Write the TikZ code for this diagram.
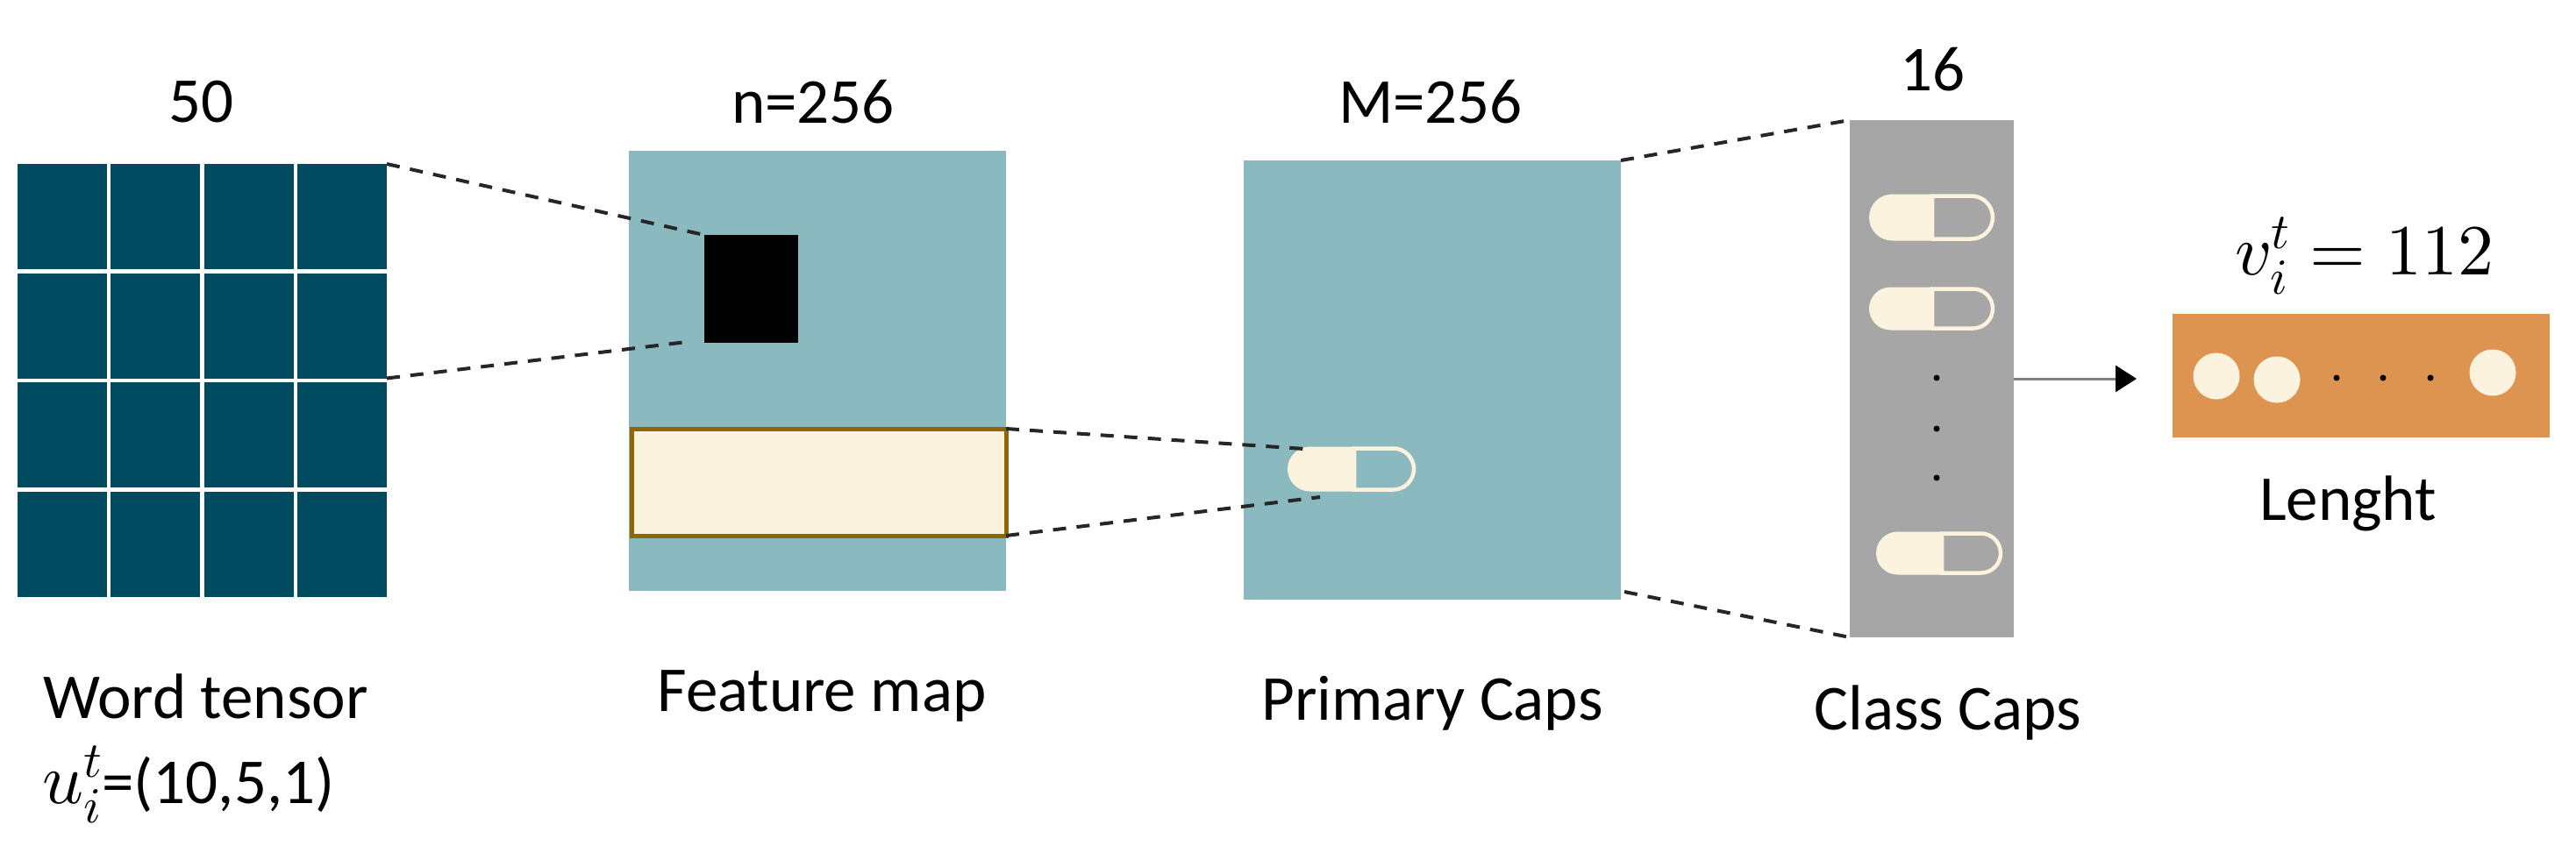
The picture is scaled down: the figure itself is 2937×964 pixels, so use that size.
\documentclass[tikz,border=0pt]{standalone}
\usepackage{fontspec}
\usepackage{unicode-math}
\setmainfont{Carlito}
\setmathfont{Latin Modern Math}
\usetikzlibrary{arrows.meta,shapes.misc}

\definecolor{wordteal}{HTML}{004B60}
\definecolor{mapteal}{HTML}{8AB9BF}
\definecolor{capscream}{HTML}{FCF3DE}
\definecolor{capsbrown}{HTML}{8F6600}
\definecolor{classgray}{HTML}{A6A6A6}
\definecolor{lengthorange}{HTML}{DD9450}

\tikzset{
	panel/.style={draw=none, inner sep=0pt, outer sep=0pt, anchor=north west},
	title/.style={inner sep=0pt, font=\fontsize{73}{90}\selectfont},
	bigtitle/.style={inner sep=0pt, font=\fontsize{82}{90}\selectfont},
	zoomline/.style={dashed, dash pattern=on 15pt off 12pt, line width=4pt, black!85},
	capsleft/.style={rounded rectangle, rounded rectangle right arc=none, fill=capscream, inner sep=0pt, outer sep=0pt, anchor=west},
	capsright/.style={rounded rectangle, rounded rectangle left arc=none, draw=capscream, line width=4.5pt, inner sep=0pt, outer sep=0pt, anchor=west},
	blob/.style={circle, fill=capscream, inner sep=0pt, minimum size=53pt},
	spot/.style={circle, fill=black, inner sep=0pt, minimum size=7pt},
}

\begin{document}
\begin{tikzpicture}[x=1pt,y=-1pt]
	\useasboundingbox (0,0) rectangle (2937,964);

	% word tensor
	\foreach \c in {0,...,3}{
		\foreach \r in {0,...,3}{
			\node[panel, fill=wordteal, minimum width=102pt, minimum height=120pt] (cell\c\r) at ({19.5+\c*106.5},{187+\r*124.5}) {};
		}
	}

	% panels
	\node[panel, fill=mapteal, minimum width=430pt, minimum height=502pt] (featuremap) at (717,172) {};
	\node[panel, fill=black, minimum width=107pt, minimum height=123pt] (kernel) at (803,268) {};
	\node[panel, fill=capscream, draw=capsbrown, line width=5pt, minimum width=427pt, minimum height=122pt] (slice) at (720,489) {};
	\node[panel, fill=mapteal, minimum width=430pt, minimum height=501pt] (primary) at (1418,183) {};
	\node[panel, fill=classgray, minimum width=187pt, minimum height=590pt] (classcaps) at (2109,137) {};
	\node[panel, fill=lengthorange, minimum width=430pt, minimum height=141pt] (lengthbox) at (2477,358) {};

	% capsules
	\foreach \n/\x/\y/\s/\e/\h in {capa/1468/535/1544/1616/51, capb/2131/248/2203/2276/53, capc/2131/352/2203/2276/49, capd/2139/631/2214/2285/49}{
		\node[capsright, minimum width={\e-\s-4}, minimum height={\h-4}] (\n r) at (\s,\y) {};
		\node[capsleft, minimum width={\s-\x}, minimum height=\h] (\n l) at (\x,\y) {};
	}

	% dots
	\foreach \n/\x/\y in {a/2208/431, b/2208/489, c/2208/545, d/2664/431, e/2717/431, f/2771/431}{
		\node[spot] (spot\n) at (\x,\y) {};
	}
	\foreach \n/\x/\y in {a/2527/429, b/2596/433, c/2842/425}{
		\node[blob] (blob\n) at (\x,\y) {};
	}

	% dashed lines
	\coordinate (kernelend) at (783,390);
	\coordinate (capatop) at (1487,512);
	\coordinate (capabottom) at (1505,567);
	\coordinate (primaryend) at (1852,675);
	\draw[zoomline] (cell30.north east) -- (kernel.north west);
	\draw[zoomline] (cell31.south east) -- (kernelend);
	\draw[zoomline] (slice.north east) -- (capatop);
	\draw[zoomline] (slice.south east) -- (capabottom);
	\draw[zoomline] (primary.north east) -- (classcaps.north west);
	\draw[zoomline] (primaryend) -- (classcaps.south west);

	% arrow
	\coordinate (arrowend) at (2436,432);
	\draw[-{Triangle[black, length=24pt, width=30pt]}, line width=3pt, gray] (classcaps.east) -- (arrowend);

	% labels
	\node[title] (wordtop) at (229,116) {50};
	\node[title] (maptop) at (927,116) {n=256};
	\node[title] (primarytop) at (1631,116) {M=256};
	\node[title] (classtop) at (2203,79) {16};
	\node[bigtitle] (vlabel) at (2696,292) {$v_i^t = 112$};
	\node[title] (lengthlabel) at (2677,574) {Lenght};
	\node[title, anchor=west] (wordlabel) at (49,794) {Word tensor};
	\node[title, anchor=west] (ulabel) at (48,895) {{\fontsize{82}{90}\selectfont$u_i^t$}=(10,5,1)};
	\node[title] (maplabel) at (937,794) {Feature map};
	\node[title] (primarylabel) at (1633,802) {Primary Caps};
	\node[title] (classlabel) at (2221,813) {Class Caps};
\end{tikzpicture}
\end{document}
